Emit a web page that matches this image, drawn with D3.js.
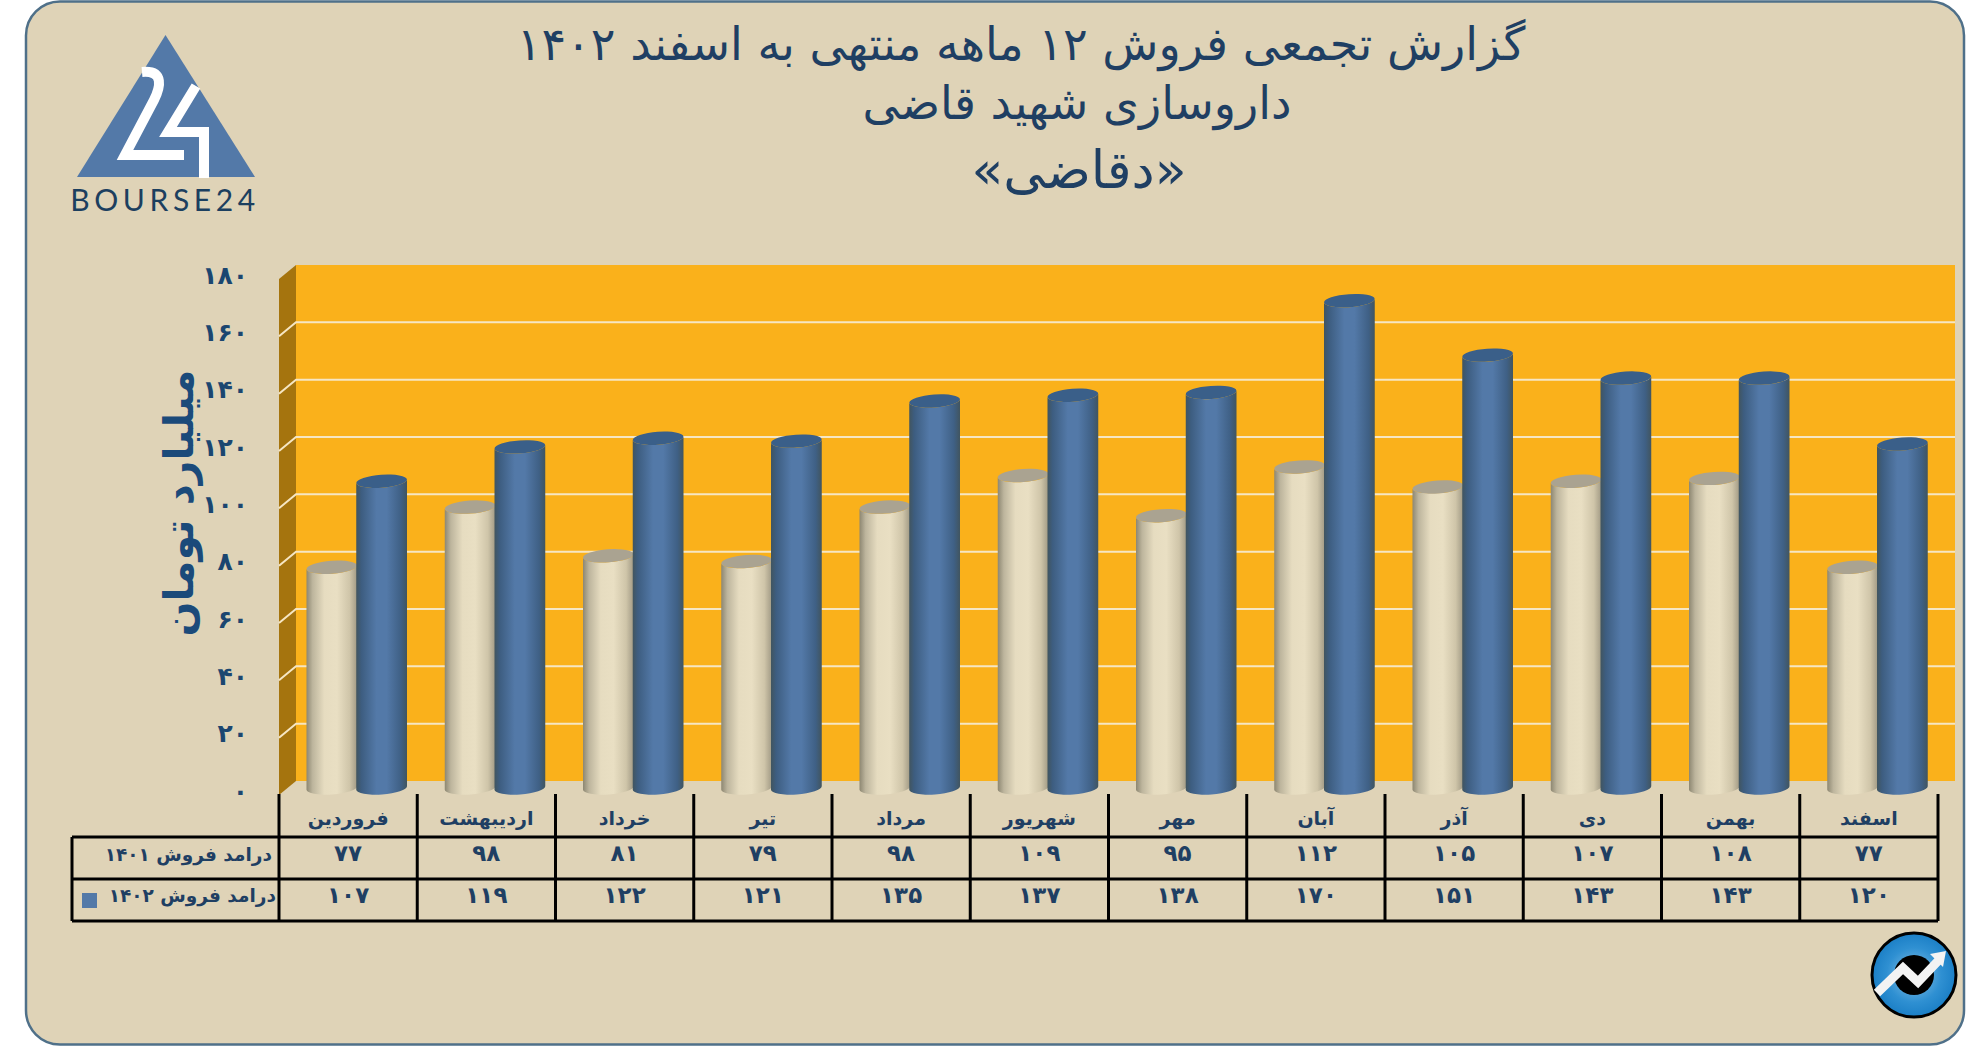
<!DOCTYPE html>
<html lang="fa">
<head>
<meta charset="utf-8">
<title>دقاضی</title>
<script src="https://cdn.jsdelivr.net/npm/d3@7"></script>
<style>
	html, body { margin: 0; padding: 0; background: #fff; }
	svg { display: block; }
	text { font-family: "DejaVu Sans", sans-serif; fill: #1f3f63; }
</style>
</head>
<body>
<div id="chart"></div>
<script>
// ---------- DATA ----------
const months = ["فروردین", "اردیبهشت", "خرداد", "تیر", "مرداد", "شهریور", "مهر", "آبان", "آذر", "دی", "بهمن", "اسفند"];
const sales1401 = [77, 98, 81, 79, 98, 109, 95, 112, 105, 107, 108, 77];
const sales1402 = [107, 119, 122, 121, 135, 137, 138, 170, 151, 143, 143, 120];
const seriesNames = ["درامد فروش ۱۴۰۱", "درامد فروش ۱۴۰۲"];
const yTicks = [0, 20, 40, 60, 80, 100, 120, 140, 160, 180];
const titleLines = ["گزارش تجمعی فروش ۱۲ ماهه منتهی به اسفند ۱۴۰۲", "داروسازی شهید قاضی", "«دقاضی»"];
const yLabel = "میلیارد تومان";

const size = { w: 1986, h: 1047 };
const fa = (d) => String(d).replace(/\d/g, (c) => "۰۱۲۳۴۵۶۷۸۹"[+c]);

const svg = d3.select("#chart").append("svg").attr("width", size.w).attr("height", size.h);
const defs = svg.append("defs");

// ---------- SCALES ----------
const xScale = d3.scaleBand().domain(months).range([279, 1938]);
const barX = d3.scaleBand().domain([0, 1]).range([27.5, 127]);
const yWall = d3.scaleLinear().domain([0, 180]).range([781, 265]);
const yFront = d3.scaleLinear().domain([0, 180]).range([795, 279]);
const yBar = d3.scaleLinear().domain([0, 180]).range([788, 272]);

// ---------- PANEL ----------
svg.append("rect")
	.attr("x", 26).attr("y", 1.5)
	.attr("width", 1938).attr("height", 1043)
	.attr("rx", 34)
	.attr("fill", "#dfd3b7")
	.attr("stroke", "#4f7089")
	.attr("stroke-width", 2.5);

// ---------- WALLS ----------
const wallX = 296, wallRight = 1955, sideX = 279;
svg.append("rect")
	.attr("x", wallX).attr("y", yWall(180))
	.attr("width", wallRight - wallX).attr("height", yWall(0) - yWall(180))
	.attr("fill", "#fab11b");
svg.append("path")
	.attr("d", `M${sideX},${yFront(180)}L${wallX},${yWall(180)}L${wallX},${yWall(0)}L${sideX},${yFront(0)}Z`)
	.attr("fill", "#a5740e");

const grid = svg.append("g").attr("fill", "none").attr("stroke", "#f6e6c3").attr("stroke-width", 2);
yTicks.slice(1, -1).forEach((t) => {
	grid.append("path")
		.attr("d", `M${sideX},${yFront(t)}L${wallX},${yWall(t)}L${wallRight},${yWall(t)}`);
});

// ---------- BARS ----------
function cylinderGradient(id, stops) {
	const g = defs.append("linearGradient").attr("id", id);
	stops.forEach((s) => g.append("stop").attr("offset", s[0]).attr("stop-color", s[1]));
}
cylinderGradient("beige", [[0, "#8d8772"], [0.12, "#bdb59d"], [0.35, "#e6dcc0"], [0.6, "#e9dfc3"], [0.85, "#cfc5a9"], [1, "#a09984"]]);
cylinderGradient("blue", [[0, "#41555f"], [0.1, "#3d5d80"], [0.4, "#5379a8"], [0.6, "#5379a8"], [0.88, "#3f6085"], [1, "#41555f"]]);

const tilt = -4, ry = 6.5;
function drawBars(values, idx, gradient, topColor) {
	const g = svg.append("g");
	values.forEach((v, i) => {
		const x0 = xScale(months[i]) + barX(idx);
		const w = barX.bandwidth() + 1;
		const rx = w / 2;
		const dy = rx * Math.sin(-tilt * Math.PI / 180);
		const yt = yBar(v), yb = yBar(0);
		g.append("path")
			.attr("d", `M${x0},${yt + dy}L${x0},${yb + dy}A${rx},${ry} ${tilt} 0 0 ${x0 + w},${yb - dy}L${x0 + w},${yt - dy}A${rx},${ry} ${tilt} 0 1 ${x0},${yt + dy}Z`)
			.attr("fill", `url(#${gradient})`);
		g.append("ellipse")
			.attr("cx", x0 + rx).attr("cy", yt)
			.attr("rx", rx).attr("ry", ry)
			.attr("transform", `rotate(${tilt} ${x0 + rx} ${yt})`)
			.attr("fill", topColor);
	});
}
drawBars(sales1401, 0, "beige", "#aaa391");
drawBars(sales1402, 1, "blue", "#3a5f89");

// ---------- Y AXIS ----------
const yAxis = svg.append("g")
	.attr("transform", "translate(248,-4)")
	.call(d3.axisLeft(yFront).tickValues(yTicks).tickSize(0).tickPadding(0).tickFormat(fa));
yAxis.select(".domain").remove();
yAxis.selectAll("text")
	.attr("font-size", 25)
	.attr("font-weight", "bold")
	.style("font-family", '"DejaVu Sans", sans-serif')
	.style("fill", "#1b4670");

svg.append("text")
	.attr("transform", "translate(193,503) rotate(-90)")
	.attr("text-anchor", "middle")
	.attr("direction", "rtl")
	.attr("font-size", 41)
	.attr("font-weight", "bold")
	.style("fill", "#1b4a7a")
	.text(yLabel);

// ---------- TITLE ----------
const titleCfg = [[1021, 60, 46], [1077, 119, 46], [1079, 188, 52]];
titleLines.forEach((line, i) => {
	svg.append("text")
		.attr("x", titleCfg[i][0]).attr("y", titleCfg[i][1])
		.attr("text-anchor", "middle")
		.attr("direction", "rtl")
		.attr("font-size", titleCfg[i][2])
		.text(line);
});

// ---------- TABLE ----------
const tableLeft = 72, rows = [794, 837, 879, 921];
const table = svg.append("g").attr("stroke", "#000").attr("stroke-width", 3).attr("fill", "none");
rows.slice(1).forEach((y) => {
	table.append("line").attr("x1", tableLeft).attr("x2", xScale.range()[1]).attr("y1", y).attr("y2", y);
});
table.append("line").attr("x1", tableLeft).attr("x2", tableLeft).attr("y1", rows[1]).attr("y2", rows[3]);
months.concat(null).forEach((m) => {
	const x = m === null ? xScale.range()[1] : xScale(m);
	table.append("line").attr("x1", x).attr("x2", x).attr("y1", rows[0]).attr("y2", rows[3]);
});

function cellText(x, y, str, size, anchor) {
	svg.append("text")
		.attr("x", x).attr("y", y)
		.attr("text-anchor", anchor || "middle")
		.attr("direction", "rtl")
		.attr("font-size", size)
		.attr("font-weight", "bold")
		.text(str);
}
months.forEach((m, i) => {
	const cx = xScale(m) + xScale.bandwidth() / 2;
	cellText(cx, 825, m, 19);
	cellText(cx, 861, fa(sales1401[i]), 23);
	cellText(cx, 903, fa(sales1402[i]), 23);
});
cellText(272, 861, seriesNames[0], 18.5, "start");
cellText(276, 902, seriesNames[1], 18.5, "start");
svg.append("rect").attr("x", 82).attr("y", 893).attr("width", 15).attr("height", 15).attr("fill", "#5379a8");

// ---------- LOGO ----------
const logo = svg.append("g");
logo.append("path").attr("d", "M165.5,35L255,177L77,177Z").attr("fill", "#5379a8");
logo.append("path")
	.attr("d", "M142,72C165,70 160,88 154,100L125,155L184,155")
	.attr("fill", "none").attr("stroke", "#fff").attr("stroke-width", 10);
logo.append("path")
	.attr("d", "M196,86L168,132L204,132L204,178")
	.attr("fill", "none").attr("stroke", "#fff").attr("stroke-width", 10);
logo.append("text")
	.attr("x", 165).attr("y", 211)
	.attr("text-anchor", "middle")
	.attr("font-size", 30)
	.attr("letter-spacing", 4.6)
	.style("font-family", "Lato, sans-serif")
	.style("fill", "#1c3f5f")
	.text("BOURSE24");

// ---------- BADGE ----------
const badgeGrad = defs.append("radialGradient").attr("id", "badge").attr("cx", "50%").attr("cy", "50%").attr("r", "50%");
badgeGrad.append("stop").attr("offset", 0).attr("stop-color", "#8cc4e8");
badgeGrad.append("stop").attr("offset", 0.65).attr("stop-color", "#2f90d2");
badgeGrad.append("stop").attr("offset", 1).attr("stop-color", "#1b7fc6");
const badge = svg.append("g").attr("transform", "translate(1914,975)");
badge.append("circle").attr("r", 42).attr("fill", "url(#badge)").attr("stroke", "#000").attr("stroke-width", 3);
badge.append("circle").attr("r", 20).attr("fill", "#000");
badge.append("path")
	.attr("d", "M-37,18L-11,-7L4,7L24,-14")
	.attr("fill", "none").attr("stroke", "#f3f3f3").attr("stroke-width", 9);
badge.append("path").attr("d", "M16,-21L32,-24L29,-8Z").attr("fill", "#f3f3f3");
</script>
</body>
</html>
